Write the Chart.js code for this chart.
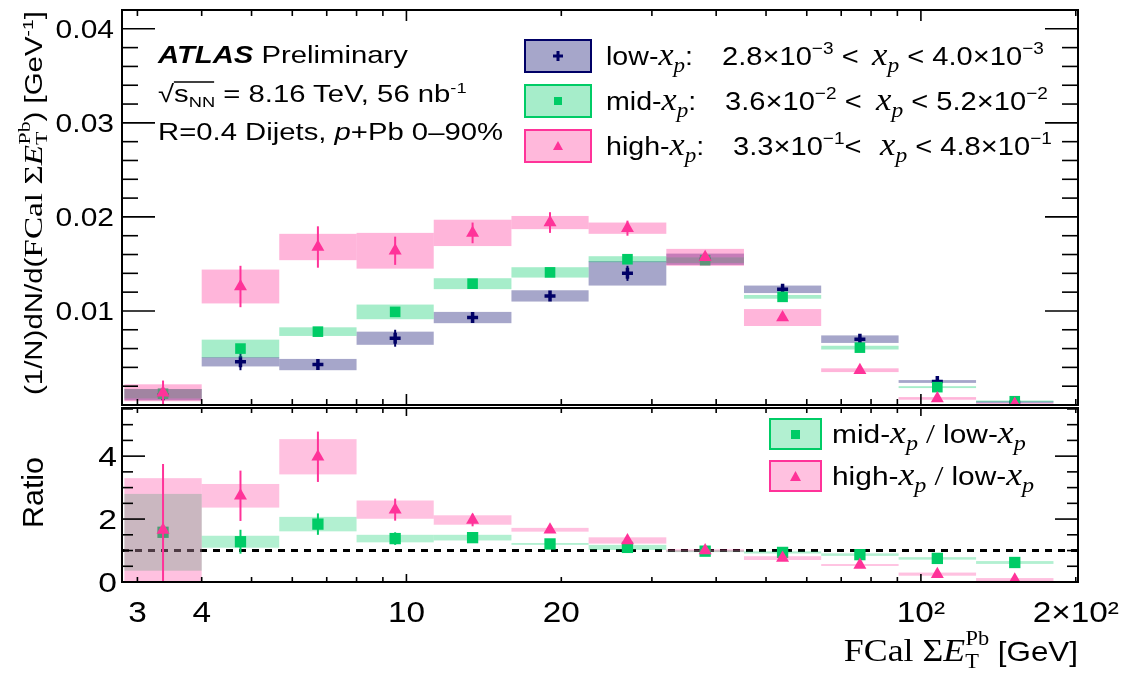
<!DOCTYPE html>
<html lang="en">
<head>
<meta charset="UTF-8">
<title>FCal sum ET for dijet xp selections</title>
<script src="https://cdn.jsdelivr.net/npm/chart.js"></script>
<style>
  html, body { margin: 0; padding: 0; background: #fff; }
  #page { position: relative; width: 1132px; height: 675px; overflow: hidden; }
  canvas { position: absolute; left: 0; }
  #topChart { top: 0; }
  #ratioChart { top: 400px; }
  #overlay { position: absolute; left: 0; top: 0; pointer-events: none; }
  .m  { font-family: "Liberation Serif", serif; font-style: italic; font-size: 31px; }
  .ms { font-family: "Liberation Serif", serif; font-style: italic; font-size: 21px; }
  .sf { font-family: "Liberation Serif", serif; }
</style>
</head>
<body>
<div id="page">
  <canvas id="topChart" width="1132" height="420"></canvas>
  <canvas id="ratioChart" width="1132" height="275"></canvas>

  <svg id="overlay" width="1132" height="675" font-family="Liberation Sans, Arial, sans-serif" fill="#000">
    <!-- ATLAS label -->
    <g transform="translate(158,0) scale(1.22,1)">
      <text x="0" y="63" font-size="24"><tspan font-weight="bold" font-style="italic">ATLAS</tspan> Preliminary</text>
      <text x="0" y="102" font-size="24">√s<tspan font-size="15" dy="5">NN</tspan><tspan dy="-5"> = 8.16 TeV, 56 nb</tspan><tspan font-size="15" dy="-9">-1</tspan></text>
      <line x1="13" y1="82" x2="46" y2="82" stroke="#000" stroke-width="1.5"/>
      <text x="0" y="140" font-size="24">R=0.4 Dijets, <tspan font-style="italic">p</tspan>+Pb 0–90%</text>
    </g>

    <!-- legend, top panel -->
    <rect x="525" y="40" width="66" height="32" fill="rgba(0,0,102,0.35)" stroke="#000066" stroke-width="2"/>
    <path d="M553 56 H563 M558 51 V61" stroke="#000066" stroke-width="3"/>
    <rect x="525" y="85" width="66" height="32" fill="rgba(0,204,102,0.35)" stroke="#00cc66" stroke-width="2"/>
    <rect x="554" y="97" width="8" height="8" fill="#00cc66"/>
    <rect x="525" y="130" width="66" height="32" fill="rgba(255,51,153,0.35)" stroke="#ff3399" stroke-width="2"/>
    <path d="M558 141 L563 150 L553 150 Z" fill="#ff3399"/>

    <g transform="translate(606,65) scale(1.1,1)"><text font-size="26">low-<tspan class="m">x</tspan><tspan class="ms" dy="7">p</tspan><tspan dy="-7">:</tspan></text></g>
    <g transform="translate(722,65) scale(1.12,1)"><text font-size="26">2.8×10<tspan font-size="17" dy="-11">−3</tspan><tspan dy="11"> &lt;</tspan></text></g>
    <g transform="translate(872,65) scale(1.12,1)"><text font-size="26"><tspan class="m">x</tspan><tspan class="ms" dy="7">p</tspan><tspan dy="-7"> &lt; 4.0×10</tspan><tspan font-size="17" dy="-11">−3</tspan></text></g>

    <g transform="translate(606,110) scale(1.1,1)"><text font-size="26">mid-<tspan class="m">x</tspan><tspan class="ms" dy="7">p</tspan><tspan dy="-7">:</tspan></text></g>
    <g transform="translate(725,110) scale(1.12,1)"><text font-size="26">3.6×10<tspan font-size="17" dy="-11">−2</tspan><tspan dy="11"> &lt;</tspan></text></g>
    <g transform="translate(876,110) scale(1.12,1)"><text font-size="26"><tspan class="m">x</tspan><tspan class="ms" dy="7">p</tspan><tspan dy="-7"> &lt; 5.2×10</tspan><tspan font-size="17" dy="-11">−2</tspan></text></g>

    <g transform="translate(606,155) scale(1.1,1)"><text font-size="26">high-<tspan class="m">x</tspan><tspan class="ms" dy="7">p</tspan><tspan dy="-7">:</tspan></text></g>
    <g transform="translate(733,155) scale(1.12,1)"><text font-size="26">3.3×10<tspan font-size="17" dy="-11">−1</tspan><tspan dy="11">&lt;</tspan></text></g>
    <g transform="translate(880,155) scale(1.12,1)"><text font-size="26"><tspan class="m">x</tspan><tspan class="ms" dy="7">p</tspan><tspan dy="-7"> &lt; 4.8×10</tspan><tspan font-size="17" dy="-11">−1</tspan></text></g>

    <!-- legend, ratio panel -->
    <rect x="770" y="419" width="51" height="30" fill="rgba(0,204,102,0.3)" stroke="#00cc66" stroke-width="2"/>
    <rect x="791" y="430" width="9" height="9" fill="#00cc66"/>
    <rect x="770" y="461" width="51" height="30" fill="rgba(255,51,153,0.3)" stroke="#ff3399" stroke-width="2"/>
    <path d="M795.5 471 L801 481 L790 481 Z" fill="#ff3399"/>
    <g transform="translate(832,443) scale(1.15,1)"><text font-size="26">mid-<tspan class="m">x</tspan><tspan class="ms" dy="7">p</tspan><tspan dy="-7" class="sf" font-size="28"> / </tspan>low-<tspan class="m">x</tspan><tspan class="ms" dy="7">p</tspan></text></g>
    <g transform="translate(832,485) scale(1.15,1)"><text font-size="26">high-<tspan class="m">x</tspan><tspan class="ms" dy="7">p</tspan><tspan dy="-7" class="sf" font-size="28"> / </tspan>low-<tspan class="m">x</tspan><tspan class="ms" dy="7">p</tspan></text></g>

    <!-- axis titles -->
    <g transform="translate(42,395) rotate(-90) scale(1.28,1)">
      <text font-size="23">(1/N)dN/d(<tspan class="sf" font-size="26">FCal Σ</tspan><tspan class="sf" font-style="italic" font-size="26">E</tspan><tspan class="sf" font-size="17" dy="5">T</tspan><tspan class="sf" font-size="17" dx="-10" dy="-17">Pb</tspan><tspan dy="12">) [GeV</tspan><tspan font-size="15" dy="-9">-1</tspan><tspan dy="9">]</tspan></text>
    </g>
    <g transform="translate(43,528) rotate(-90) scale(1.05,1)">
      <text font-size="29">Ratio</text>
    </g>
    <g transform="translate(1078,661) scale(1.12,1)">
      <text text-anchor="end" font-size="28"><tspan class="sf" font-size="32">FCal Σ</tspan><tspan class="sf" font-style="italic" font-size="32">E</tspan><tspan class="sf" font-size="20" dy="7">T</tspan><tspan class="sf" font-size="20" dx="-12" dy="-23">Pb</tspan><tspan dy="16"> [GeV]</tspan></text>
    </g>
  </svg>
</div>

<script>
// FCal sum ET bins (GeV)
const binEdges = [2.83, 4, 5.66, 8, 11.3, 16, 22.6, 32, 45.3, 64, 90.5, 128, 181];

// (1/N) dN/d(FCal sum ET), per x_p selection
const lowVals  = [0.0011, 0.0046, 0.0043, 0.0071, 0.0093, 0.0116, 0.0140, 0.0155, 0.0123, 0.0070, 0.0025, 0.0003];
const lowStat  = [0.0004, 0.0009, 0.0004, 0.0009, 0.0005, 0.0005, 0.0008, 0.0003, 0.0003, 0.0002, 0.0002, 0.0001];
const lowSys   = [0.0006, 0.0005, 0.0006, 0.0007, 0.0006, 0.0006, 0.0013, 0.0006, 0.0004, 0.0004, 0.00015, 0.0001];

const midVals  = [0.0012, 0.0060, 0.0078, 0.0099, 0.0129, 0.0141, 0.0155, 0.0154, 0.0115, 0.0061, 0.0019, 0.0004];
const midStat  = [0.0003, 0.0004, 0.0004, 0.0004, 0.0003, 0.0003, 0.0003, 0.0002, 0.0002, 0.0002, 0.0001, 0.0001];
const midSys   = [0.0005, 0.00095, 0.00046, 0.00078, 0.00058, 0.00055, 0.00032, 0.0003, 0.0002, 0.0002, 0.0001, 0.00008];

const highVals = [0.0013, 0.0126, 0.0168, 0.0164, 0.0183, 0.0194, 0.0188, 0.0157, 0.0093, 0.0037, 0.0007, 0.0001];
const highStat = [0.0013, 0.0022, 0.0022, 0.0015, 0.0011, 0.0011, 0.0008, 0.0004, 0.0003, 0.0002, 0.0001, 0.0001];
const highSys  = [0.0009, 0.0018, 0.0014, 0.0019, 0.0014, 0.0007, 0.0006, 0.0009, 0.0009, 0.0002, 0.00014, 0.0001];

// ratios to low-x_p
const midRatio      = [1.58, 1.28, 1.84, 1.38, 1.41, 1.21, 1.10, 0.98, 0.94, 0.87, 0.75, 0.62];
const midRatioStat  = [0.25, 0.38, 0.34, 0.20, 0.10, 0.08, 0.06, 0.05, 0.05, 0.05, 0.05, 0.05];
const midRatioSys   = [1.22, 0.19, 0.23, 0.12, 0.09, 0.03, 0.08, 0.03, 0.035, 0.04, 0.04, 0.045];

const highRatio     = [1.65, 2.74, 3.98, 2.30, 1.97, 1.66, 1.32, 1.00, 0.76, 0.54, 0.25, 0.07];
const highRatioStat = [2.10, 0.80, 0.80, 0.35, 0.20, 0.08, 0.06, 0.05, 0.04, 0.03, 0.03, 0.03];
const highRatioSys  = [1.65, 0.375, 0.56, 0.29, 0.15, 0.06, 0.10, 0.04, 0.06, 0.03, 0.05, 0.055];

// axis ticks
const xTickValues = [3, 4, 10, 20, 100, 200];
const xTickLabels = ['3', '4', '10', '20', '10²', '2×10²'];
const xMinorTicks = [3, 4, 5, 6, 7, 8, 9, 20, 30, 40, 50, 60, 70, 80, 90, 200];
const xMajorTicks = [10, 100];
const topYTicks   = [0.01, 0.02, 0.03, 0.04];
const topYLabels  = ['0.01', '0.02', '0.03', '0.04'];
const ratioYTicks = [0, 2, 4];
const ratioYLabels = ['0', '2', '4'];

const navy = '#000066', green = '#00cc66', pink = '#ff3399';
const FONT = '"Liberation Sans", Arial, sans-serif';

const binCenters = binEdges.slice(0, -1).map((e, i) => Math.sqrt(e * binEdges[i + 1]));
const toPoints = vals => vals.map((v, i) => ({ x: binCenters[i], y: v }));

// sys boxes + stat bars, drawn just before each series' markers
function drawUncertainties(chart, s) {
  const { ctx, chartArea: a, scales: { x, y } } = chart;
  ctx.save();
  ctx.beginPath();
  ctx.rect(a.left, a.top, a.right - a.left, a.bottom - a.top);
  ctx.clip();
  ctx.fillStyle = s.box;
  s.vals.forEach((v, i) => {
    const x0 = x.getPixelForValue(binEdges[i]);
    const x1 = x.getPixelForValue(binEdges[i + 1]);
    const y0 = y.getPixelForValue(v + s.sys[i]);
    const y1 = y.getPixelForValue(v - s.sys[i]);
    ctx.fillRect(x0, y0, x1 - x0, y1 - y0);
  });
  ctx.strokeStyle = s.color;
  ctx.lineWidth = 2;
  s.vals.forEach((v, i) => {
    const xc = x.getPixelForValue(binCenters[i]);
    ctx.beginPath();
    ctx.moveTo(xc, y.getPixelForValue(v + s.stat[i]));
    ctx.lineTo(xc, y.getPixelForValue(v - s.stat[i]));
    ctx.stroke();
  });
  ctx.restore();
}

function stretchedText(ctx, text, x, y, align, sx) {
  ctx.save();
  ctx.translate(x, y);
  ctx.scale(sx, 1);
  ctx.textAlign = align;
  ctx.textBaseline = 'alphabetic';
  ctx.fillText(text, 0, 0);
  ctx.restore();
}

function drawAxes(chart, cfg) {
  const { ctx, chartArea: a, scales: { x, y } } = chart;
  ctx.save();
  ctx.strokeStyle = '#000';
  ctx.fillStyle = '#000';
  ctx.lineWidth = 1.6;
  const seg = (x0, y0, x1, y1) => { ctx.beginPath(); ctx.moveTo(x0, y0); ctx.lineTo(x1, y1); ctx.stroke(); };

  xMinorTicks.forEach(v => {
    const px = x.getPixelForValue(v);
    seg(px, a.bottom, px, a.bottom - cfg.xMinor);
    seg(px, a.top, px, a.top + cfg.xMinor);
  });
  xMajorTicks.forEach(v => {
    const px = x.getPixelForValue(v);
    seg(px, a.bottom, px, a.bottom - cfg.xMajor);
    seg(px, a.top, px, a.top + cfg.xMajor);
  });

  const n = Math.floor(y.max / cfg.yStep + 1e-6);
  for (let i = 0; i <= n; i++) {
    const py = y.getPixelForValue(i * cfg.yStep);
    const len = i % cfg.yMajorEvery === 0 ? cfg.yMajor : cfg.yMinor;
    seg(a.left, py, a.left + len, py);
    seg(a.right, py, a.right - len, py);
  }

  ctx.lineWidth = 2;
  ctx.strokeRect(a.left, a.top, a.right - a.left, a.bottom - a.top);

  ctx.font = cfg.yFont + 'px ' + FONT;
  cfg.yTicks.forEach((v, i) => {
    const py = y.getPixelForValue(v) + cfg.yFont * 0.358;
    stretchedText(ctx, cfg.yLabels[i], cfg.yLabelX, py, 'right', 1.2);
  });

  if (cfg.xLabels) {
    ctx.font = cfg.xFont + 'px ' + FONT;
    xTickValues.forEach((v, i) => {
      stretchedText(ctx, xTickLabels[i], x.getPixelForValue(v), cfg.xLabelY, 'center', 1.15);
    });
  }
  ctx.restore();
}

function panelPlugin(cfg) {
  return {
    id: 'panel',
    beforeDatasetsDraw(chart) {
      if (cfg.refLine === undefined) return;
      const { ctx, chartArea: a, scales: { y } } = chart;
      const py = y.getPixelForValue(cfg.refLine);
      ctx.save();
      ctx.strokeStyle = '#000';
      ctx.lineWidth = 3;
      ctx.setLineDash([7, 6]);
      ctx.beginPath();
      ctx.moveTo(a.left, py);
      ctx.lineTo(a.right, py);
      ctx.stroke();
      ctx.restore();
    },
    beforeDatasetDraw(chart, args) {
      const s = chart.data.datasets[args.index].series;
      if (s) drawUncertainties(chart, s);
    },
    afterDraw(chart) {
      drawAxes(chart, cfg);
    }
  };
}

const xScale = { type: 'logarithmic', min: 2.8, max: 202, bounds: 'data', display: false };

function dataset(vals, stat, sys, color, box, style, radius, order) {
  return {
    data: toPoints(vals),
    series: { vals, stat, sys, color, box },
    pointStyle: style,
    pointRadius: radius,
    pointHoverRadius: radius,
    backgroundColor: color,
    borderColor: color,
    borderWidth: style === 'cross' ? 3.5 : 0,
    pointHoverBorderWidth: style === 'cross' ? 3.5 : 0,
    order
  };
}

new Chart(document.getElementById('topChart'), {
  type: 'scatter',
  data: {
    datasets: [
      dataset(lowVals, lowStat, lowSys, navy, 'rgba(0,0,102,0.35)', 'cross', 5.5, 3),
      dataset(midVals, midStat, midSys, green, 'rgba(0,204,102,0.35)', 'rect', 7.5, 2),
      dataset(highVals, highStat, highSys, pink, 'rgba(255,51,153,0.36)', 'triangle', 7.5, 1)
    ]
  },
  options: {
    responsive: false,
    animation: false,
    events: [],
    layout: { padding: { left: 122, right: 54, top: 10, bottom: 15 } },
    scales: {
      x: xScale,
      y: { type: 'linear', min: 0, max: 0.042, display: false }
    },
    plugins: { legend: { display: false }, tooltip: { enabled: false } }
  },
  plugins: [panelPlugin({
    xMinor: 6, xMajor: 11, yStep: 0.002, yMajorEvery: 5, yMinor: 16, yMajor: 33,
    yTicks: topYTicks, yLabels: topYLabels, yFont: 25, yLabelX: 114
  })]
});

new Chart(document.getElementById('ratioChart'), {
  type: 'scatter',
  data: {
    datasets: [
      dataset(midRatio, midRatioStat, midRatioSys, green, 'rgba(0,204,102,0.3)', 'rect', 8, 2),
      dataset(highRatio, highRatioStat, highRatioSys, pink, 'rgba(255,51,153,0.3)', 'triangle', 7.5, 1)
    ]
  },
  options: {
    responsive: false,
    animation: false,
    events: [],
    layout: { padding: { left: 122, right: 54, top: 5, bottom: 93 } },
    scales: {
      x: xScale,
      y: { type: 'linear', min: 0, max: 5.53, display: false }
    },
    plugins: { legend: { display: false }, tooltip: { enabled: false } }
  },
  plugins: [panelPlugin({
    xMinor: 5, xMajor: 8, yStep: 0.5, yMajorEvery: 4, yMinor: 11, yMajor: 23,
    yTicks: ratioYTicks, yLabels: ratioYLabels, yFont: 28, yLabelX: 117,
    xLabels: true, xFont: 29, xLabelY: 222, refLine: 1
  })]
});
</script>
</body>
</html>
